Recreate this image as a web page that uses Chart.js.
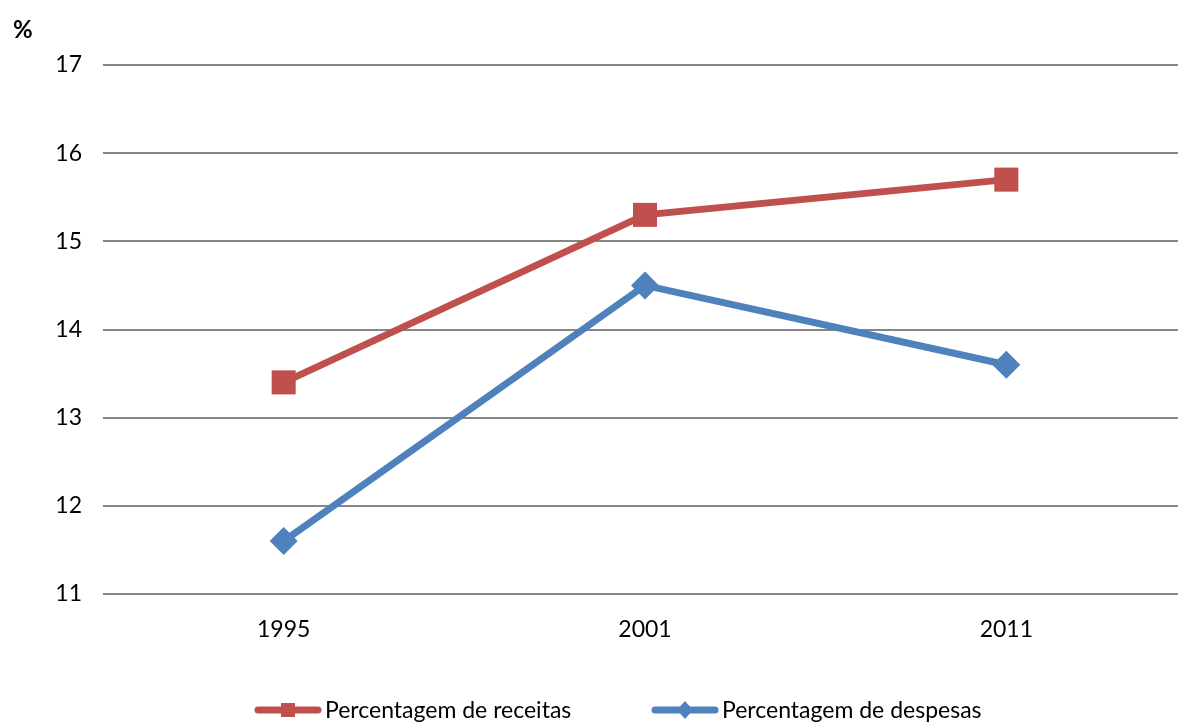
<!DOCTYPE html>
<html>
<head>
<meta charset="utf-8">
<script src="https://cdn.jsdelivr.net/npm/chart.js"></script>
<style>
  html, body { margin: 0; padding: 0; background: #fff; overflow: hidden; }
  #wrap { position: relative; width: 1178px; height: 722px; overflow: hidden; }
  #pct { position: absolute; left: 13px; top: 14px; font: bold 24px Lato, sans-serif; color: #000; }
</style>
</head>
<body>
<div id="wrap">
  <canvas id="myChart" width="1204" height="722" style="width:1204px;height:722px"></canvas>
  <div id="pct">%</div>
</div>
<script>
const years = ['1995', '2001', '2011'];
const receitas = [13.4, 15.3, 15.7];
const despesas = [11.6, 14.5, 13.6];
const yTicks = [11, 12, 13, 14, 15, 16, 17];
const seriesNames = ['Percentagem de receitas', 'Percentagem de despesas'];

const red = '#C0504D';
const blue = '#4F81BD';
const font = 'Lato, sans-serif';

// legend drawn at the bottom: line + marker + label
const bottomLegend = {
  id: 'bottomLegend',
  afterDraw(chart) {
    const ctx = chart.ctx;
    const y = 710;
    const items = [
      { x: 258, ds: chart.data.datasets[0] },
      { x: 655, ds: chart.data.datasets[1] }
    ];
    ctx.save();
    items.forEach(it => {
      const c = it.ds.borderColor;
      ctx.strokeStyle = c;
      ctx.lineWidth = 7;
      ctx.lineCap = 'round';
      ctx.beginPath();
      ctx.moveTo(it.x, y);
      ctx.lineTo(it.x + 60, y);
      ctx.stroke();
      ctx.fillStyle = c;
      const cx = it.x + 30;
      if (it.ds.pointStyle === 'rect') {
        ctx.fillRect(cx - 7, y - 7, 14, 14);
      } else {
        ctx.beginPath();
        ctx.moveTo(cx, y - 9);
        ctx.lineTo(cx + 8, y);
        ctx.lineTo(cx, y + 9);
        ctx.lineTo(cx - 8, y);
        ctx.closePath();
        ctx.fill();
      }
      ctx.fillStyle = '#000';
      ctx.font = '23px ' + font;
      ctx.textBaseline = 'middle';
      ctx.textAlign = 'left';
      ctx.fillText(it.ds.label, it.x + 67, y + 1);
    });
    ctx.restore();
  }
};

new Chart(document.getElementById('myChart'), {
  type: 'line',
  data: {
    labels: years,
    datasets: [{
      label: seriesNames[0],
      data: receitas,
      borderColor: red,
      backgroundColor: red,
      borderWidth: 7,
      pointStyle: 'rect',
      pointRadius: 17,
      pointHoverRadius: 17,
      pointBorderWidth: 0,
      tension: 0
    }, {
      label: seriesNames[1],
      data: despesas,
      borderColor: blue,
      backgroundColor: blue,
      borderWidth: 7,
      pointStyle: 'rectRot',
      pointRadius: 14,
      pointHoverRadius: 14,
      pointBorderWidth: 0,
      tension: 0
    }]
  },
  options: {
    responsive: false,
    animation: false,
    layout: { padding: { top: 65, right: 0, bottom: 0, left: 0 } },
    plugins: {
      legend: { display: false },
      tooltip: { enabled: false }
    },
    scales: {
      x: {
        offset: true,
        grid: { display: false, drawTicks: false },
        border: { display: false },
        ticks: { color: '#000', font: { family: font, size: 23 }, padding: 22 },
        afterFit(scale) { scale.height = 128; }
      },
      y: {
        min: 11,
        max: 17,
        afterBuildTicks(scale) { scale.ticks = yTicks.map(v => ({ value: v })); },
        grid: { color: '#868686', lineWidth: 2, drawTicks: false },
        border: { display: false },
        ticks: { color: '#000', font: { family: font, size: 23 }, padding: 21 },
        afterFit(scale) { scale.width = 103; }
      }
    }
  },
  plugins: [bottomLegend]
});
</script>
</body>
</html>
